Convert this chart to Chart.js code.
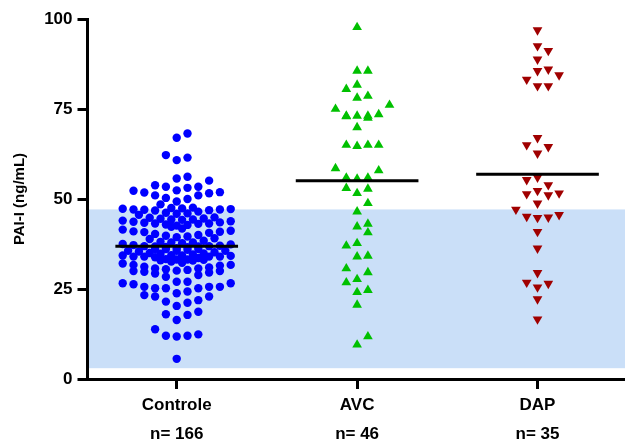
<!DOCTYPE html>
<html>
<head>
<meta charset="utf-8">
<script src="https://cdn.jsdelivr.net/npm/chart.js@4.4.0/dist/chart.umd.min.js"></script>
<style>
html, body { margin: 0; padding: 0; background: #fff; }
</style>
</head>
<body>
<canvas id="dotChart" width="625" height="440"></canvas>
<script>
// groups and their sample sizes
const categories = ['Controle', 'AVC', 'DAP'];
const counts = ['n= 166', 'n= 46', 'n= 35'];

// PAI-I values (ng/mL)
const controle = [
  68.2, 67.0, 62.2, 61.5, 60.8, 56.2, 55.7, 55.1,
  53.8, 53.4, 53.4, 53.1, 52.4, 51.9, 51.6, 51.0, 50.0, 50.3, 51.0, 51.8, 52.3,
  48.5, 49.3, 47.5, 47.3, 47.1, 46.9, 46.5, 47.1, 47.2, 47.4, 47.6, 45.6,
  44.9, 44.6, 44.3, 43.4, 43.2, 43.1, 43.2, 43.7, 44.2, 44.3, 44.8,
  42.6, 41.2, 40.9, 40.3, 40.6, 42.3, 42.8, 39.4, 39.1,
  38.9, 36.1, 34.3, 32.6, 26.6,
  37.9, 36.1, 34.3, 31.7, 26.6,
  37.5, 35.6, 34.0, 31.5, 29.8, 25.6, 22.9,
  36.9, 34.9, 33.2, 30.7, 29.3, 25.2, 21.9, 12.4,
  36.8, 34.4, 33.2, 30.0, 27.0, 25.2, 21.2, 18.0, 12.0,
  36.3, 33.1, 30.0, 27.0, 23.8, 20.3, 16.4, 11.8, 5.6,
  36.9, 33.3, 30.1, 28.4, 24.3, 21.5, 17.8, 12.0,
  36.8, 34.0, 30.5, 28.9, 25.2, 22.9, 18.7, 13.8,
  37.2, 35.6, 34.0, 30.7, 25.6, 23.3,
  37.7, 34.0, 31.7, 25.6,
  38.1, 34.2, 32.1, 26.3,
  36.1, 35.6, 35.4,
  46.8, 47.0, 46.2, 45.9, 46.0, 44.0, 43.8, 43.5, 42.9, 44.5,
  41.8, 41.5, 40.0, 39.8, 40.8, 41.0, 39.6, 37.0, 37.4, 36.6, 38.4, 37.9, 36.7,
  35.0, 35.2, 34.8, 35.9, 34.6, 33.6, 33.8, 32.9, 33.0, 31.0, 31.2, 30.3, 29.6, 32.3
];
const avc = [
  97.7, 85.6, 85.6, 81.7, 80.5, 78.6, 78.1, 76.1, 75.0, 73.1, 72.9, 73.1, 73.1, 73.5, 72.5,
  69.9, 65.0, 65.0, 64.7, 65.0, 58.5, 57.9, 55.9, 55.6, 55.9, 52.8, 51.6, 53.0, 48.8, 46.5,
  42.3, 43.1, 40.7, 37.7, 37.0, 34.2, 34.0, 30.7, 29.6, 27.7, 26.8, 24.1, 24.7, 20.6, 11.8, 9.5
];
const dap = [
  96.9, 92.5, 91.2, 88.8, 86.0, 85.6, 84.4, 83.2, 81.4, 81.4, 67.0, 65.0, 64.5, 62.7,
  56.0, 55.3, 53.9, 51.6, 51.1, 52.3, 51.4, 48.8, 47.1, 45.1, 44.8, 44.9, 45.6,
  40.9, 36.3, 29.5, 26.8, 26.5, 25.5, 22.2, 16.6
];
const means = [36.9, 55.1, 56.9];
const yTicks = [0, 25, 50, 75, 100];
const refRange = [3.0, 47.1];

const FONT = '"Liberation Sans", Arial, Helvetica, sans-serif';
const COL_PX = 10.8;   // column step of the dot rows
const ROW_PX = 11;     // height of one row of dots

const axisGrid = { drawOnChartArea: false, drawTicks: true, tickLength: 10, tickWidth: 3, tickColor: '#000' };
const axisBorder = { display: true, width: 3, color: '#000' };

const bandPlugin = {
  id: 'band',
  beforeDraw(chart) {
    const { ctx, chartArea: a, scales: { y } } = chart;
    const top = y.getPixelForValue(refRange[1]);
    const bot = y.getPixelForValue(refRange[0]);
    ctx.save();
    ctx.fillStyle = '#cadff8';
    ctx.fillRect(a.left, top, a.right - a.left, bot - top);
    ctx.restore();
  }
};

function meanLine(i) {
  return {
    data: [{ x: i + 1 - 0.34, y: means[i] }, { x: i + 1 + 0.34, y: means[i] }],
    showLine: true, borderColor: '#000', borderWidth: 3, pointRadius: 0, pointHoverRadius: 0, order: 0
  };
}

const ctx = document.getElementById('dotChart').getContext('2d');
const chart = new Chart(ctx, {
  type: 'scatter',
  data: {
    datasets: [
      meanLine(0), meanLine(1), meanLine(2),
      { label: 'Controle', data: [], pointStyle: 'circle', pointRadius: 4.2, pointHoverRadius: 4.2,
        backgroundColor: '#0000ff', borderWidth: 0, order: 1 },
      { label: 'AVC', data: [], pointStyle: 'triangle', pointRadius: 5.6, pointHoverRadius: 5.6,
        backgroundColor: '#00c000', borderWidth: 0, order: 1 },
      { label: 'DAP', data: [], pointStyle: 'triangle', pointRotation: 180, pointRadius: 5.6, pointHoverRadius: 5.6,
        backgroundColor: '#a00000', borderWidth: 0, order: 1 }
    ]
  },
  options: {
    responsive: false,
    animation: false,
    layout: { autoPadding: false, padding: { top: 19, right: 0, bottom: 0, left: 0 } },
    plugins: { legend: { display: false }, tooltip: { enabled: false } },
    scales: {
      x: {
        type: 'linear', min: 0.5055, max: 3.485,
        afterBuildTicks: s => { s.ticks = categories.map((c, i) => ({ value: i + 1 })); },
        afterFit: s => { s.height = 61; s.paddingLeft = 0; s.paddingRight = 0; },
        ticks: {
          autoSkip: false, maxRotation: 0, padding: 1, color: '#000',
          font: { family: FONT, size: 17, weight: 'bold', lineHeight: 1.75 },
          callback: v => { const i = Math.round(v) - 1; return [categories[i], counts[i]]; }
        },
        grid: axisGrid,
        border: axisBorder
      },
      y: {
        min: 0, max: 100,
        afterBuildTicks: s => { s.ticks = yTicks.map(v => ({ value: v })); },
        afterFit: s => { s.width = 87.5; },
        ticks: { padding: 5, color: '#000', font: { family: FONT, size: 17, weight: 'bold' } },
        grid: axisGrid,
        border: axisBorder,
        title: {
          display: true, text: 'PAI-I (ng/mL)', color: '#000',
          font: { family: FONT, size: 15, weight: 'bold' }, padding: { top: 11, bottom: 0 }
        }
      }
    }
  },
  plugins: [bandPlugin]
});

// dot plot layout: sorted values are grouped into rows, each row fans out from the centre
function dotRows(values, center, maxCol) {
  const xs = chart.scales.x, ys = chart.scales.y;
  const cx = xs.getPixelForValue(center);
  const order = [0];
  for (let k = 1; k <= maxCol; k++) order.push(k, -k);
  for (let k = 0.5; k < maxCol; k++) order.push(k, -k);
  const out = [];
  let rowStart = null, n = 0;
  values.slice().sort((a, b) => a - b).forEach(v => {
    const py = ys.getPixelForValue(v);
    if (rowStart === null || rowStart - py > ROW_PX) { rowStart = py; n = 0; }
    const c = order[n % order.length];
    n++;
    out.push({ x: xs.getValueForPixel(cx + c * COL_PX), y: v });
  });
  return out;
}

chart.data.datasets[3].data = dotRows(controle, 1, 5);
chart.data.datasets[4].data = dotRows(avc, 2, 3);
chart.data.datasets[5].data = dotRows(dap, 3, 2);
chart.update('none');
</script>
</body>
</html>
